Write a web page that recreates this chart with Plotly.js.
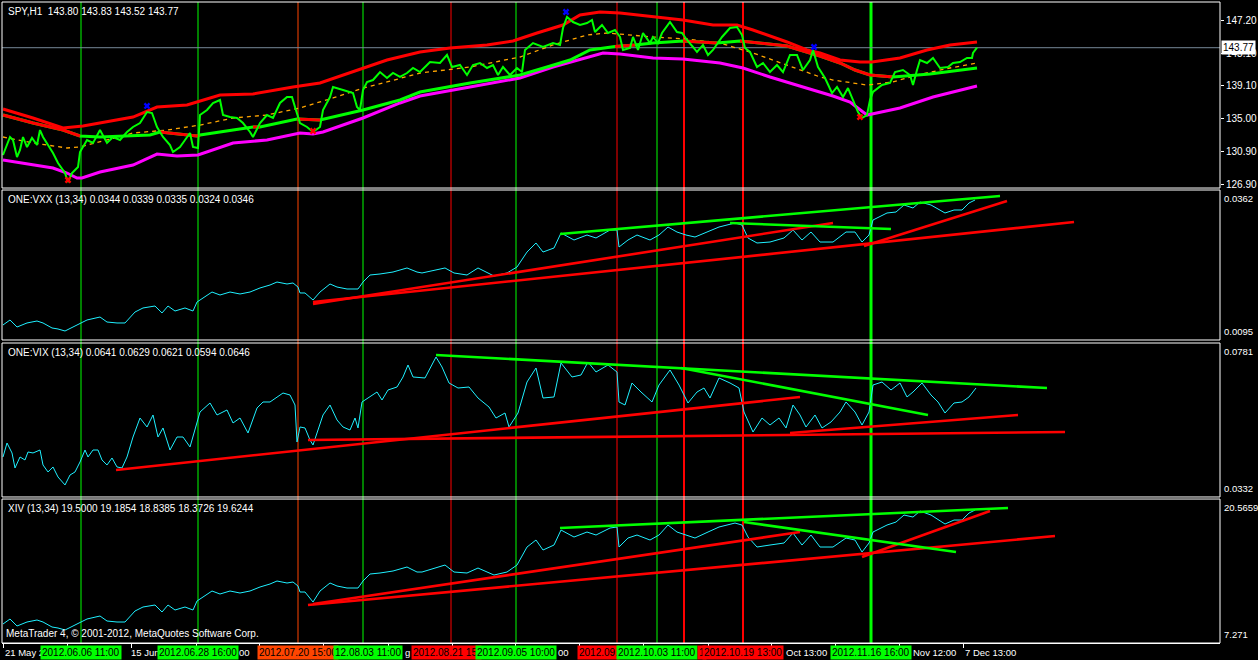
<!DOCTYPE html>
<html><head><meta charset="utf-8">
<script src="https://cdn.plot.ly/plotly-3.0.1.min.js"></script>
<style>html,body{margin:0;padding:0;background:#000;}#chart{width:1258px;height:660px;}</style>
</head><body><div id="chart"></div>
<script>
// ---------- DATA (bar index on x, values on y) ----------
const spyTitle = "SPY,H1\u00a0\u00a0143.80 143.83 143.52 143.77";
const vxxTitle = "ONE:VXX (13,34) 0.0344 0.0339 0.0335 0.0324 0.0346";
const vixTitle = "ONE:VIX (13,34) 0.0641 0.0629 0.0621 0.0594 0.0646";
const xivTitle = "XIV (13,34) 19.5000 19.1854 18.8385 18.3726 19.6244";
const lastPrice = 143.77;

const spyX = [3,10,13,17,20,23,27,32,37,40,43,47,53,58,65,68,72,78,80,87,93,100,107,113,120,127,133,140,147,152,157,163,170,173,180,185,190,193,198,200,207,213,220,223,230,237,243,250,253,260,267,273,280,287,292,295,300,307,313,320,323,330,333,343,350,353,357,360,363,367,373,380,387,393,400,407,413,420,430,440,447,452,460,467,473,480,487,493,498,503,510,517,522,525,533,543,553,560,563,567,573,580,587,592,595,602,608,615,620,623,630,633,638,643,650,653,658,662,670,677,682,687,693,697,703,708,713,718,722,730,737,742,745,750,753,757,763,770,777,783,790,797,803,810,813,818,825,832,837,843,848,853,858,862,867,870,873,882,890,895,903,910,913,917,920,927,933,940,948,953,960,967,972,973,977];
const spyClose = [130.49,132.72,132.35,130.24,131.11,132.72,131.48,132.60,131.73,133.58,132.72,131.98,130.74,129.50,128.26,127.15,128.26,129.00,130.86,132.35,131.98,133.58,131.98,132.72,132.35,133.34,133.96,134.45,135.81,135.69,133.96,132.72,131.73,130.86,131.48,132.35,133.21,131.48,131.36,135.44,136.06,136.93,137.30,135.44,135.19,135.07,134.45,133.34,132.72,134.45,135.44,135.07,136.93,137.67,137.67,136.43,134.45,133.96,133.34,133.96,136.06,137.67,138.91,138.54,138.29,138.16,136.43,136.06,138.54,139.53,139.77,140.76,140.02,140.64,140.15,140.64,141.26,140.76,142.00,141.88,142.87,141.38,141.63,140.39,141.63,141.88,141.26,141.63,140.39,141.38,140.39,141.26,140.76,143.49,144.35,143.86,144.35,144.11,146.21,147.57,146.95,146.58,146.83,147.20,145.71,146.58,145.59,145.96,145.10,143.49,143.73,145.10,143.49,145.59,144.35,145.10,144.35,145.59,146.95,145.71,145.59,144.73,143.86,143.24,144.11,142.87,143.49,144.35,145.10,146.21,146.33,145.34,143.73,143.24,142.50,141.38,141.88,140.76,141.63,140.76,142.87,142.87,141.01,142.25,143.49,141.38,140.02,138.16,138.91,137.67,138.78,137.30,135.81,135.07,135.44,137.30,138.29,139.15,139.40,140.76,141.01,140.39,139.15,141.01,142.25,141.88,142.50,141.26,141.38,141.88,142.00,142.50,142.50,143.12,143.77];

const bandUpX = [3,33,63,83,133,157,187,220,253,293,320,363,387,420,450,487,513,537,563,580,600,620,653,683,713,737,753,787,807,820,840,860,872,900,927,950,977];
const bandUp = [136.18,135.07,133.83,134.08,135.19,136.43,136.68,137.92,138.04,138.91,139.40,141.26,142.25,143.24,143.73,144.11,144.60,145.59,146.58,147.82,148.19,148.07,147.57,147.20,146.58,146.58,145.96,144.48,143.49,143.12,142.25,142.00,142.00,142.50,143.49,144.11,144.48];

const maX = [3,33,63,80,100,127,150,160,187,197,200,233,253,260,297,320,363,400,420,470,520,547,570,590,615,635,653,683,717,740,787,800,820,840,855,870,893,930,977];
const maVal = [135.44,134.45,133.58,132.84,132.72,132.84,132.97,133.34,132.97,132.84,132.97,133.58,133.96,133.96,134.95,134.82,136.06,137.30,138.29,139.40,140.39,141.38,142.25,143.49,143.92,144.11,144.35,144.60,144.35,144.60,143.98,143.49,142.74,141.88,141.01,140.39,140.15,140.52,141.26];
const maTrend = "RRRGGGGRRRGGRGRGGGGGGGGGRGGRGRRRRRRRGGG";

const bandLowX = [3,33,53,67,77,82,100,133,157,177,198,233,267,300,313,323,363,400,420,470,520,553,587,603,620,653,683,720,743,770,803,833,850,867,872,900,933,977];
const bandLow = [129.87,129.25,128.88,128.26,127.64,127.64,128.39,129.25,130.61,130.37,130.49,131.98,132.35,133.21,133.09,133.34,135.07,136.93,137.79,138.91,140.02,141.38,142.62,143.12,142.99,142.50,142.37,141.88,141.26,140.15,138.91,137.79,137.05,135.44,135.57,136.31,137.67,139.03];

const slowX = [3,33,67,80,133,167,200,233,267,300,333,363,387,420,470,520,553,587,607,653,687,720,753,787,820,833,867,893,917,950,977];
const slowVal = [132.72,131.98,131.36,131.48,133.21,133.58,134.20,135.07,135.44,136.31,137.55,138.78,139.53,140.64,141.38,142.62,144.11,145.34,145.59,145.10,144.85,144.35,143.12,141.63,140.15,139.77,139.15,139.53,140.39,141.26,141.88];

const arrowUpX = [147,566,814];  const arrowUpVal = [136.56,148.19,143.86];
const arrowDnX = [68,313,860];   const arrowDnVal = [127.40,133.46,135.19];

const spyTickVals = [126.9,130.9,135.0,139.1,143.1,147.2];

const oscX = [3,10,17,27,37,43,52,58,65,73,80,87,100,107,117,125,135,143,155,162,168,175,185,193,197,203,212,220,230,240,250,260,270,277,287,293,298,300,305,313,320,330,337,347,358,363,370,380,393,407,417,422,445,454,467,478,494,507,517,527,536,543,554,561,574,587,596,610,617,619,628,637,650,659,668,677,686,695,708,719,735,742,748,757,770,784,793,802,811,820,833,846,855,862,869,873,887,896,904,913,920,931,945,954,962,969,975];
const vxxVal = [0.01217,0.01306,0.01181,0.01253,0.01288,0.01253,0.01164,0.01146,0.01110,0.01181,0.01253,0.01306,0.01359,0.01270,0.01253,0.01253,0.01448,0.01520,0.01555,0.01431,0.01555,0.01466,0.01520,0.01466,0.01626,0.01698,0.01804,0.01751,0.01804,0.01769,0.01804,0.01876,0.01929,0.01982,0.01947,0.01965,0.01893,0.01787,0.01787,0.01662,0.01804,0.01947,0.01893,0.01858,0.01858,0.01982,0.02107,0.02125,0.02160,0.02232,0.02160,0.02143,0.02232,0.02143,0.02107,0.02232,0.02089,0.02143,0.02249,0.02516,0.02677,0.02516,0.02588,0.02855,0.02730,0.02819,0.02766,0.02908,0.02908,0.02605,0.02730,0.02819,0.02730,0.02819,0.02961,0.02872,0.02819,0.02783,0.02872,0.02961,0.03033,0.02997,0.02766,0.02677,0.02694,0.02766,0.02908,0.02730,0.02872,0.02694,0.02694,0.02872,0.02872,0.02694,0.02819,0.03086,0.03211,0.03228,0.03353,0.03300,0.03406,0.03353,0.03211,0.03264,0.03264,0.03389,0.03442];
const xivVal = [9.025,9.487,8.841,9.210,9.395,9.210,8.748,8.656,8.471,8.841,9.210,9.487,9.764,9.302,9.210,9.210,10.225,10.595,10.779,10.133,10.779,10.318,10.595,10.318,11.149,11.518,12.072,11.795,12.072,11.887,12.072,12.441,12.718,12.995,12.811,12.903,12.534,11.980,11.980,11.056,12.072,12.811,12.534,12.349,12.349,12.995,13.642,13.734,13.919,14.288,13.826,13.826,14.472,13.826,13.734,14.195,13.549,13.826,14.472,16.134,16.781,15.857,16.319,17.704,17.058,17.519,17.242,17.889,17.981,16.134,16.965,17.242,16.781,17.242,18.165,17.519,17.242,16.965,17.519,17.981,18.350,18.165,17.058,16.134,16.319,16.504,17.427,16.319,17.242,16.134,16.134,16.965,16.781,15.673,16.504,17.519,18.165,18.442,19.089,18.904,19.458,19.089,18.258,18.627,18.627,19.273,19.550];

const vixX = [3,7,12,15,20,25,28,33,40,43,48,53,58,65,70,75,80,85,88,93,98,102,107,112,117,122,127,133,140,147,153,158,163,170,177,183,190,195,200,210,217,227,233,240,248,257,263,270,277,283,290,295,297,300,305,310,313,318,323,330,337,343,350,355,358,362,370,377,382,388,397,403,408,413,425,436,442,449,458,469,478,489,496,505,509,518,527,536,543,554,561,572,581,588,596,608,617,619,625,632,641,652,659,670,679,688,697,704,710,719,730,739,744,753,762,770,779,786,793,800,806,815,822,831,840,846,855,862,869,873,882,891,900,907,913,922,931,938,945,954,962,969,976];
const vixVal = [0.04486,0.04894,0.04603,0.04166,0.04486,0.04399,0.04632,0.04603,0.04690,0.04253,0.04049,0.04195,0.03903,0.03670,0.03961,0.04049,0.04340,0.04690,0.04486,0.04690,0.04690,0.04399,0.04253,0.04457,0.04195,0.04166,0.04486,0.05069,0.05623,0.05361,0.05711,0.05069,0.05332,0.04690,0.05069,0.05069,0.04778,0.05273,0.05798,0.06061,0.05711,0.05857,0.05478,0.05623,0.05186,0.05915,0.06090,0.06090,0.06236,0.06352,0.06294,0.06002,0.04924,0.05361,0.05332,0.04982,0.04836,0.05273,0.05711,0.06002,0.05565,0.05361,0.05273,0.05623,0.05332,0.06090,0.06236,0.06381,0.06148,0.06440,0.06527,0.06819,0.07169,0.06819,0.06790,0.07402,0.07110,0.06644,0.06498,0.06527,0.06206,0.05944,0.05623,0.05769,0.05361,0.05769,0.06673,0.07081,0.06206,0.06236,0.07227,0.06819,0.06877,0.07256,0.06965,0.07169,0.06965,0.06090,0.06002,0.06644,0.06381,0.06090,0.06585,0.07023,0.06585,0.06061,0.06381,0.06498,0.06206,0.06790,0.06644,0.06498,0.05798,0.05215,0.05623,0.05419,0.05623,0.05332,0.06002,0.05711,0.05361,0.05711,0.05332,0.05507,0.05798,0.06090,0.05798,0.05419,0.05798,0.06585,0.06673,0.06440,0.06644,0.06236,0.06381,0.06644,0.06294,0.06090,0.05769,0.06061,0.06090,0.06236,0.06498];

// trend lines: [x0,x1], [v0,v1], colour key
const vxxTrendX = [[313,1074],[313,833],[864,1007],[560,1000],[730,891]];
const vxxTrendV = [[0.01626,0.03050],[0.01591,0.03033],[0.02623,0.03424],[0.02837,0.03513],[0.03033,0.02926]];
const vxxTrendC = ["R","R","R","G","G"];
const vixTrendX = [[116,800],[308,1065],[790,1018],[436,1047],[681,928]];
const vixTrendV = [[0.04107,0.06236],[0.04982,0.05215],[0.05186,0.05711],[0.07460,0.06498],[0.07081,0.05711]];
const vixTrendC = ["R","R","R","G","G"];
const xivTrendX = [[308,1055],[313,800],[862,990],[560,1008],[744,956]];
const xivTrendV = [[10.779,17.150],[10.872,17.519],[15.211,19.458],[17.889,19.735],[18.442,15.673]];
const xivTrendC = ["R","R","R","G","G"];

const vxxRange = [0.0095, 0.0362];
const vixRange = [0.0332, 0.0781];
const xivRange = [7.271, 20.5659];
const vxxLabels = ["0.0362","0.0095"];
const vixLabels = ["0.0781","0.0332"];
const xivLabels = ["20.5659","7.271"];

// vertical event lines and the part of each bottom label that stays visible
const vlineX = [81,198,298,363,451,516,617,657,684,743,871];
const vlineKind = ["G","G","O","G","R","G","R","G","R","R","G"];
const vlineW = [1,1,1,1,1,1,1,1,2,2,3];
const vlineLabelShown = ["2012.06.06 11:00","2012.06.28 16:00","2012.07.20 15:00","12.08.03 11:00","2012.08.21 15:","2012.09.05 10:00","2012.09.","2012.10.03 11:00","1","2012.10.19 13:00","2012.11.16 16:00"];
const vlineLabelAnchor = ["center","center","center","right","left","center","left","center","left","center","center"];
const vlineLabelShift = [0,0,0,40,-40,0,-40,0,13,0,0];

const xTickPos = [3,67,131,196,259,323,388,452,515,579,643,708,771,835,899,963];
// visible fragments of the time-scale labels (rest is hidden under the event boxes)
const xLabelPos = [3,129,237,403,556,784,911,963];
const xLabelText = ["21 May 2","15 Jun","00","g","00","Oct 13:00","Nov 12:00","7 Dec 13:00"];

// ---------- BUILD ----------
const COL = {R:"#ff0000", G:"#00ff00", O:"#ff4500"};
const FONT = "Liberation Sans, Arial, sans-serif";
const CYAN = "#1ff0ff";
function ln(x, y, ax, color, width, dash){
  return {type:"scatter", mode:"lines", x:x, y:y, xaxis:"x", yaxis:ax,
          line:{color:color, width:width, dash:dash||"solid"}, hoverinfo:"skip", connectgaps:false};
}
const traces = [];
traces.push(ln(bandLowX, bandLow, "y", "#ff00ff", 3));
traces.push(ln(slowX, slowVal, "y", "#ffa500", 1.3, "4px,4px"));
traces.push(ln(maX, maVal, "y", "#00ff00", 3));
const mrx = [], mry = [];
let prevR = false;
for (let i = 0; i < maX.length - 1; i++) {
  if (maTrend[i] === "R") {
    if (!prevR) { if (mrx.length) { mrx.push(null); mry.push(null); } mrx.push(maX[i]); mry.push(maVal[i]); }
    mrx.push(maX[i+1]); mry.push(maVal[i+1]); prevR = true;
  } else prevR = false;
}
traces.push(ln(mrx, mry, "y", "#ff0000", 3));
traces.push(ln(bandUpX, bandUp, "y", "#ff0000", 3));
traces.push(ln(spyX, spyClose, "y", "#00ff00", 2));
traces.push({type:"scatter", mode:"markers", x:arrowUpX, y:arrowUpVal, xaxis:"x", yaxis:"y",
  marker:{symbol:"x", size:6, color:"#0000ff"}, hoverinfo:"skip"});
traces.push({type:"scatter", mode:"markers", x:arrowDnX, y:arrowDnVal, xaxis:"x", yaxis:"y",
  marker:{symbol:"x", size:6, color:"#ff0000"}, hoverinfo:"skip"});
traces.push(ln(oscX, vxxVal, "y2", CYAN, 1));
vxxTrendX.forEach((x,i)=>traces.push(ln(x, vxxTrendV[i], "y2", COL[vxxTrendC[i]], 2.6)));
traces.push(ln(vixX, vixVal, "y3", CYAN, 1));
vixTrendX.forEach((x,i)=>traces.push(ln(x, vixTrendV[i], "y3", COL[vixTrendC[i]], 2.6)));
traces.push(ln(oscX, xivVal, "y4", CYAN, 1));
xivTrendX.forEach((x,i)=>traces.push(ln(x, xivTrendV[i], "y4", COL[xivTrendC[i]], 2.6)));

const shapes = [];
vlineX.forEach((x,i)=>shapes.push({type:"line", xref:"x", yref:"paper", x0:x, x1:x, y0:0, y1:1,
  line:{color:COL[vlineKind[i]], width:vlineW[i]}, layer:"below"}));
shapes.push({type:"line", xref:"paper", yref:"y", x0:0, x1:1, y0:lastPrice, y1:lastPrice,
  line:{color:"#778899", width:1}, layer:"below"});
["y","y2","y3","y4"].forEach(a=>shapes.push({type:"rect", xref:"paper", yref:a+" domain",
  x0:0, x1:1, y0:0, y1:1, line:{color:"#ffffff", width:1}, layer:"above"}));

const ann = [];
const tf = {family:FONT, size:10, color:"#ffffff"};
const rf = {family:FONT, size:9.5, color:"#ffffff"};
const xf = {family:FONT, size:9.5, color:"#ffffff"};
[["y",spyTitle],["y2",vxxTitle],["y3",vixTitle],["y4",xivTitle]].forEach(p=>ann.push({
  xref:"paper", yref:p[0]+" domain", x:0, y:1, xanchor:"left", yanchor:"middle", xshift:4, yshift:-9,
  text:p[1], showarrow:false, font:tf}));
[["y2",vxxLabels],["y3",vixLabels],["y4",xivLabels]].forEach(p=>{
  ann.push({xref:"paper", yref:p[0]+" domain", x:1, y:1, xanchor:"left", yanchor:"top", xshift:2, yshift:-1,
    text:p[1][0], showarrow:false, font:rf});
  ann.push({xref:"paper", yref:p[0]+" domain", x:1, y:0, xanchor:"left", yanchor:"bottom", xshift:2, yshift:1,
    text:p[1][1], showarrow:false, font:rf});
});
ann.push({xref:"paper", yref:"y", x:1, y:lastPrice, xanchor:"left", yanchor:"middle", xshift:1,
  text:lastPrice.toFixed(2), showarrow:false, bgcolor:"#ffffff", borderpad:1,
  font:{family:FONT, size:10, color:"#000000"}});
ann.push({xref:"paper", yref:"paper", x:0, y:0, xanchor:"left", yanchor:"bottom", xshift:2, yshift:2,
  text:"MetaTrader 4, © 2001-2012, MetaQuotes Software Corp.", showarrow:false, font:tf});
xLabelPos.forEach((x,i)=>ann.push({xref:"x", yref:"paper", x:x, y:0, xanchor:"left", yanchor:"top",
  yshift:-2, text:xLabelText[i], showarrow:false, font:xf}));
vlineX.forEach((x,i)=>ann.push({xref:"x", yref:"paper", x:x, y:0, xanchor:vlineLabelAnchor[i], yanchor:"top",
  xshift:vlineLabelShift[i], yshift:-2, text:vlineLabelShown[i], showarrow:false, bgcolor:COL[vlineKind[i]],
  borderpad:1, font:{family:FONT, size:10, color:"#000000"}}));

const yBase = {showgrid:false, zeroline:false, showline:false, fixedrange:true, anchor:"x", side:"right"};
const layout = {
  width:1258, height:660, paper_bgcolor:"#000000", plot_bgcolor:"#000000",
  margin:{l:2, r:38, t:2, b:17}, showlegend:false, font:{family:FONT, size:10, color:"#ffffff"},
  xaxis:{range:[2,1220], anchor:"y4", showgrid:false, zeroline:false, showline:true, linecolor:"#ffffff",
    ticks:"outside", ticklen:4, tickcolor:"#ffffff", tickvals:xTickPos, showticklabels:false, fixedrange:true},
  yaxis:Object.assign({}, yBase, {domain:[0.7098,1], range:[126.405,149.428], ticks:"outside", ticklen:3,
    tickcolor:"#ffffff", tickvals:spyTickVals, ticktext:spyTickVals.map(v=>v.toFixed(2)),
    tickfont:{family:FONT, size:10, color:"#ffffff"}}),
  yaxis2:Object.assign({}, yBase, {domain:[0.4727,0.7067], range:vxxRange, showticklabels:false, ticks:""}),
  yaxis3:Object.assign({}, yBase, {domain:[0.2278,0.4680], range:vixRange, showticklabels:false, ticks:""}),
  yaxis4:Object.assign({}, yBase, {domain:[0,0.2246], range:xivRange, showticklabels:false, ticks:""}),
  shapes:shapes, annotations:ann
};
Plotly.newPlot("chart", traces, layout, {displayModeBar:false, staticPlot:true});
</script></body></html>
